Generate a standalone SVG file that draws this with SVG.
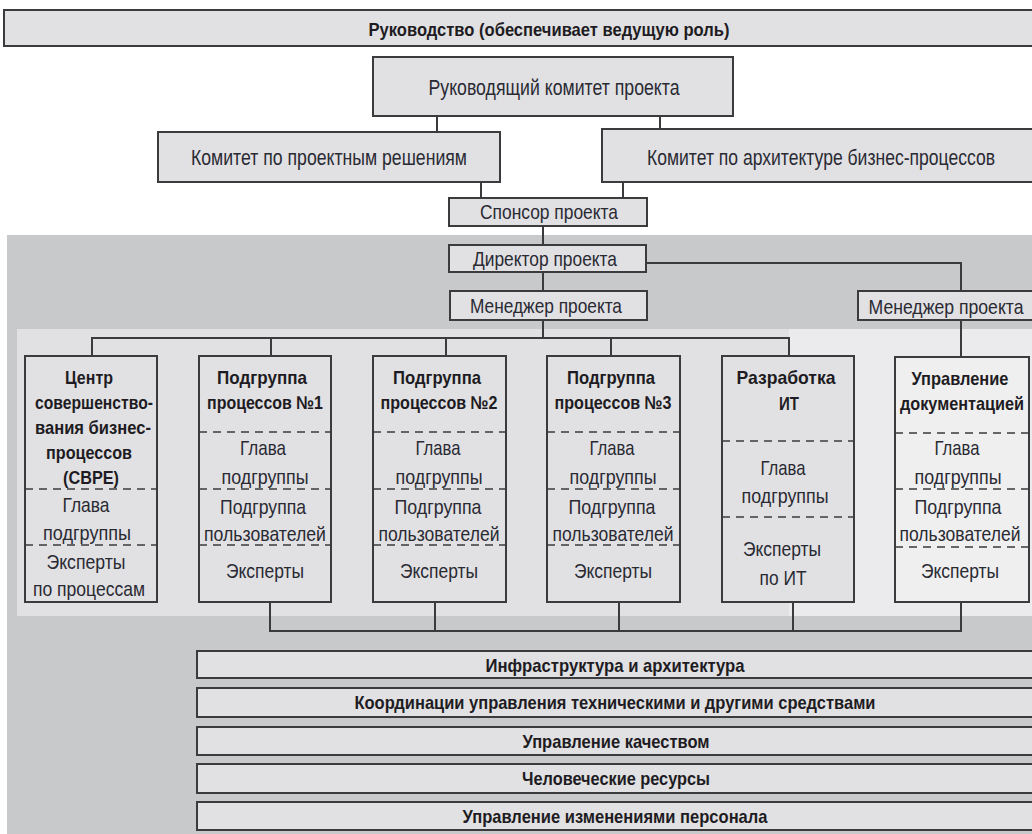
<svg xmlns="http://www.w3.org/2000/svg" width="1032" height="834" viewBox="0 0 1032 834">
  <style>
    .box { fill: #e1e1e3; stroke: #3b3a3c; stroke-width: 2; }
    .wbox { fill: #efeff0; stroke: #3b3a3c; stroke-width: 2; }
    text { font-family: "Liberation Sans", Arial, sans-serif; text-anchor: middle; dominant-baseline: central; }
    .t { font-size: 22px; fill: #2a2a33; }
    .s { font-size: 21px; fill: #2a2a33; }
    .c { font-size: 21px; fill: #2a2a33; }
    .b { font-size: 18.5px; font-weight: bold; fill: #1e1c22; }
    .conn { fill: none; stroke: #3b3a3c; stroke-width: 2; }
    .dash { fill: none; stroke: #3b3a3c; stroke-width: 1.6; stroke-dasharray: 8 6; }
  </style>

  <rect width="1032" height="834" fill="#ffffff"/>
  <!-- shaded project-team area -->
  <rect x="7" y="235" width="1025" height="599" fill="#c8c9cb"/>
  <rect x="17" y="329" width="772" height="287" fill="#e1e1e3"/>
  <rect x="789" y="329" width="243" height="287" fill="#ebebed"/>

  <!-- connectors -->
  <g id="connectors">
    <path class="conn" d="M437 116 V132 M660 116 V129"/>
    <path class="conn" d="M481 182 V198 M623 182 V198"/>
    <path class="conn" d="M543 226 V245"/>
    <path class="conn" d="M646 263 H961 V291"/>
    <path class="conn" d="M543 272 V291"/>
    <path class="conn" d="M543 320 V338 M92 356 V338 H789 V356 M271 338 V356 M446 338 V356 M611 338 V356"/>
    <path class="conn" d="M961 320 V357"/>
    <path class="conn" d="M270 602 V631 H961 V602 M435 602 V631 M619 602 V631 M793 602 V631"/>
  </g>

  <g id="leadership">
    <rect class="box" x="4" y="10" width="1029" height="36"/>
    <text class="b" x="549" y="29" textLength="361" lengthAdjust="spacingAndGlyphs">Руководство (обеспечивает ведущую роль)</text>
  </g>

  <g id="steering-committee">
    <rect class="box" x="373" y="57" width="360" height="59"/>
    <text class="t" x="554" y="87" textLength="251" lengthAdjust="spacingAndGlyphs">Руководящий комитет проекта</text>
  </g>

  <g id="design-committee">
    <rect class="box" x="158" y="132" width="342" height="50"/>
    <text class="t" x="329" y="157" textLength="276" lengthAdjust="spacingAndGlyphs">Комитет по проектным решениям</text>
  </g>

  <g id="bpa-committee">
    <rect class="box" x="602" y="129" width="431" height="53"/>
    <text class="t" x="821" y="157" textLength="348" lengthAdjust="spacingAndGlyphs">Комитет по архитектуре бизнес-процессов</text>
  </g>

  <g id="sponsor">
    <rect class="box" x="449" y="198" width="198" height="28"/>
    <text class="s" x="549" y="211" textLength="138" lengthAdjust="spacingAndGlyphs">Спонсор проекта</text>
  </g>

  <g id="director">
    <rect class="box" x="449" y="245" width="197" height="27"/>
    <text class="s" x="545" y="258" textLength="144" lengthAdjust="spacingAndGlyphs">Директор проекта</text>
  </g>

  <g id="manager">
    <rect class="box" x="450" y="291" width="197" height="29"/>
    <text class="s" x="546" y="305" textLength="152" lengthAdjust="spacingAndGlyphs">Менеджер проекта</text>
  </g>

  <g id="manager-docs">
    <rect class="box" x="858" y="291" width="175" height="29"/>
    <text class="s" x="946" y="306" textLength="155" lengthAdjust="spacingAndGlyphs">Менеджер проекта</text>
  </g>

  <g id="cbpe">
    <rect class="box" x="25" y="356" width="132" height="246"/>
    <text class="b" x="89" y="377" textLength="48" lengthAdjust="spacingAndGlyphs">Центр</text>
    <text class="b" x="94" y="402" textLength="118" lengthAdjust="spacingAndGlyphs">совершенство-</text>
    <text class="b" x="93" y="427" textLength="116" lengthAdjust="spacingAndGlyphs">вания бизнес-</text>
    <text class="b" x="89" y="452" textLength="86" lengthAdjust="spacingAndGlyphs">процессов</text>
    <text class="b" x="91" y="477" textLength="56" lengthAdjust="spacingAndGlyphs">(СВРЕ)</text>
    <path class="dash" d="M25 489 H157 M25 545 H157"/>
    <text class="c" x="86" y="504" textLength="47" lengthAdjust="spacingAndGlyphs">Глава</text>
    <text class="c" x="87" y="532" textLength="88" lengthAdjust="spacingAndGlyphs">подгруппы</text>
    <text class="c" x="86" y="561" textLength="79" lengthAdjust="spacingAndGlyphs">Эксперты</text>
    <text class="c" x="89" y="588" textLength="112" lengthAdjust="spacingAndGlyphs">по процессам</text>
  </g>

  <g id="subgroup-1">
    <rect class="box" x="199" y="356" width="132" height="246"/>
    <text class="b" x="262" y="377" textLength="90" lengthAdjust="spacingAndGlyphs">Подгруппа</text>
    <text class="b" x="265" y="402" textLength="116" lengthAdjust="spacingAndGlyphs">процессов №1</text>
    <path class="dash" d="M199 432 H331 M199 489 H331 M199 545 H331"/>
    <text class="c" x="263" y="447" textLength="46" lengthAdjust="spacingAndGlyphs">Глава</text>
    <text class="c" x="265" y="476" textLength="87" lengthAdjust="spacingAndGlyphs">подгруппы</text>
    <text class="c" x="263" y="506" textLength="86" lengthAdjust="spacingAndGlyphs">Подгруппа</text>
    <text class="c" x="265" y="533" textLength="122" lengthAdjust="spacingAndGlyphs">пользователей</text>
    <text class="c" x="265" y="570" textLength="78" lengthAdjust="spacingAndGlyphs">Эксперты</text>
  </g>

  <g id="subgroup-2">
    <rect class="box" x="373" y="356" width="133" height="246"/>
    <text class="b" x="437" y="377" textLength="88" lengthAdjust="spacingAndGlyphs">Подгруппа</text>
    <text class="b" x="439" y="402" textLength="117" lengthAdjust="spacingAndGlyphs">процессов №2</text>
    <path class="dash" d="M373 432 H506 M373 489 H506 M373 545 H506"/>
    <text class="c" x="438" y="447" textLength="45" lengthAdjust="spacingAndGlyphs">Глава</text>
    <text class="c" x="439" y="476" textLength="87" lengthAdjust="spacingAndGlyphs">подгруппы</text>
    <text class="c" x="438" y="506" textLength="87" lengthAdjust="spacingAndGlyphs">Подгруппа</text>
    <text class="c" x="439" y="533" textLength="121" lengthAdjust="spacingAndGlyphs">пользователей</text>
    <text class="c" x="439" y="570" textLength="78" lengthAdjust="spacingAndGlyphs">Эксперты</text>
  </g>

  <g id="subgroup-3">
    <rect class="box" x="547" y="356" width="133" height="246"/>
    <text class="b" x="611" y="377" textLength="88" lengthAdjust="spacingAndGlyphs">Подгруппа</text>
    <text class="b" x="613" y="402" textLength="117" lengthAdjust="spacingAndGlyphs">процессов №3</text>
    <path class="dash" d="M547 432 H680 M547 489 H680 M547 545 H680"/>
    <text class="c" x="612" y="447" textLength="45" lengthAdjust="spacingAndGlyphs">Глава</text>
    <text class="c" x="613" y="476" textLength="87" lengthAdjust="spacingAndGlyphs">подгруппы</text>
    <text class="c" x="612" y="506" textLength="87" lengthAdjust="spacingAndGlyphs">Подгруппа</text>
    <text class="c" x="613" y="533" textLength="121" lengthAdjust="spacingAndGlyphs">пользователей</text>
    <text class="c" x="613" y="570" textLength="78" lengthAdjust="spacingAndGlyphs">Эксперты</text>
  </g>

  <g id="it-development">
    <rect class="box" x="722" y="356" width="132" height="246"/>
    <text class="b" x="786" y="377" textLength="99" lengthAdjust="spacingAndGlyphs">Разработка</text>
    <text class="b" x="789" y="403" textLength="20" lengthAdjust="spacingAndGlyphs">ИТ</text>
    <path class="dash" d="M722 441 H854 M722 517 H854"/>
    <text class="c" x="783" y="467" textLength="45" lengthAdjust="spacingAndGlyphs">Глава</text>
    <text class="c" x="785" y="495" textLength="87" lengthAdjust="spacingAndGlyphs">подгруппы</text>
    <text class="c" x="782" y="548" textLength="78" lengthAdjust="spacingAndGlyphs">Эксперты</text>
    <text class="c" x="783" y="577" textLength="47" lengthAdjust="spacingAndGlyphs">по ИТ</text>
  </g>

  <g id="document-management">
    <rect class="wbox" x="895" y="357" width="134" height="245"/>
    <text class="b" x="960" y="378" textLength="97" lengthAdjust="spacingAndGlyphs">Управление</text>
    <text class="b" x="962" y="403" textLength="124" lengthAdjust="spacingAndGlyphs">документацией</text>
    <path class="dash" d="M895 433 H1029 M895 489 H1029 M895 547 H1029"/>
    <text class="c" x="957" y="447" textLength="45" lengthAdjust="spacingAndGlyphs">Глава</text>
    <text class="c" x="958" y="476" textLength="87" lengthAdjust="spacingAndGlyphs">подгруппы</text>
    <text class="c" x="958" y="506" textLength="87" lengthAdjust="spacingAndGlyphs">Подгруппа</text>
    <text class="c" x="960" y="533" textLength="121" lengthAdjust="spacingAndGlyphs">пользователей</text>
    <text class="c" x="960" y="570" textLength="78" lengthAdjust="spacingAndGlyphs">Эксперты</text>
  </g>

  <g id="infrastructure">
    <rect class="box" x="197" y="651" width="836" height="27"/>
    <text class="b" x="615" y="665" textLength="259" lengthAdjust="spacingAndGlyphs">Инфраструктура и архитектура</text>
  </g>
  <g id="coordination">
    <rect class="box" x="197" y="688" width="836" height="29"/>
    <text class="b" x="615" y="702" textLength="521" lengthAdjust="spacingAndGlyphs">Координации управления техническими и другими средствами</text>
  </g>
  <g id="quality">
    <rect class="box" x="197" y="727" width="836" height="28"/>
    <text class="b" x="616" y="741" textLength="187" lengthAdjust="spacingAndGlyphs">Управление качеством</text>
  </g>
  <g id="human-resources">
    <rect class="box" x="197" y="764" width="836" height="29"/>
    <text class="b" x="616" y="778" textLength="188" lengthAdjust="spacingAndGlyphs">Человеческие ресурсы</text>
  </g>
  <g id="change-management">
    <rect class="box" x="197" y="802" width="836" height="28"/>
    <text class="b" x="615" y="816" textLength="305" lengthAdjust="spacingAndGlyphs">Управление изменениями персонала</text>
  </g>
</svg>
